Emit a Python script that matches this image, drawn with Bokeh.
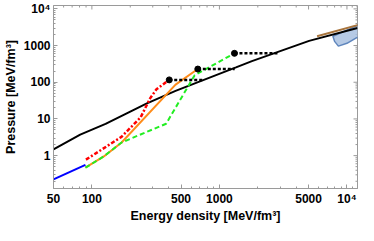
import math
from bokeh.plotting import figure
from bokeh.models import FixedTicker, Range1d
from bokeh.embed import file_html
from bokeh.resources import INLINE

# ---- axis ticks ----
x_ticks = [50, 100, 500, 1000, 5000, 10000]
x_tick_labels = ["50", "100", "500", "1000", "5000", "10⁴"]
x_minor = [60, 70, 80, 90, 200, 300, 400, 600, 700, 800, 900,
           2000, 3000, 4000, 6000, 7000, 8000, 9000, 11000, 12000]
y_ticks = [1, 10, 100, 1000, 10000]
y_tick_labels = ["1", "10", "100", "1000", "10⁴"]
y_minor = [m * d for d in (0.1, 1, 10, 100, 1000) for m in range(2, 10)]
x_title = "Energy density [MeV/fm³]"
y_title = "Pressure [MeV/fm³]"

# ---- data (energy density e, pressure P) ----
black_e = [50, 81, 128, 270, 453, 1349, 1799, 5050, 12100]
black_p = [1.48, 3.72, 7.3, 26.6, 58, 254, 376, 1343, 3000]

blue_e = [50, 89]
blue_p = [0.225, 0.56]

orange_e = [89, 124, 171, 453, 677]
orange_p = [0.47, 0.95, 2.28, 86, 229]

green_e = [89, 124, 171, 382, 640, 1312]
green_p = [0.47, 0.95, 2.28, 7.4, 156, 614]

red_e = [89.8, 170.6, 241, 286, 321, 404]
red_p = [0.776, 3.25, 11.0, 36.3, 64.3, 116]

dot_e = [404, 677, 1312]
dot_p = [116, 229, 614]
dot_end_e = [738, 1318, 2865]

brown_e = [5830, 12500]
brown_p = [1800, 3700]

band_e = [7760, 14000, 14000, 11940, 10000, 8570, 8000]
band_p = [1800, 4400, 1900, 1640, 1150, 966, 1300]

X_START, X_END = 50, 12100
Y_START, Y_END = 0.127, 12360

FONT = "Liberation Sans"
GRAY = "#9a9a9a"

p = figure(width=358, height=225, x_axis_type="log", y_axis_type="log",
           x_range=Range1d(X_START, X_END), y_range=Range1d(Y_START, Y_END),
           output_backend="svg", toolbar_location=None,
           min_border_left=40, min_border_right=1, min_border_top=5,
           min_border_bottom=20)
p.grid.visible = False
p.outline_line_color = GRAY
p.background_fill_color = "white"


def style_axis(ax, ticks, minor, labels):
    ax.ticker = FixedTicker(ticks=ticks, minor_ticks=minor)
    ax.major_tick_in = 4
    ax.major_tick_out = 0
    ax.minor_tick_in = 2
    ax.minor_tick_out = 0
    ax.major_tick_line_color = GRAY
    ax.minor_tick_line_color = GRAY
    ax.axis_line_color = GRAY
    ax.major_label_overrides = {t: l for t, l in zip(ticks, labels)}
    ax.major_label_text_font = FONT
    ax.major_label_text_font_style = "bold"
    ax.major_label_text_font_size = "12px"
    ax.major_label_text_color = "black"
    ax.axis_label_text_font = FONT
    ax.axis_label_text_font_style = "bold"
    ax.axis_label_text_font_size = "12.5px"
    ax.axis_label_text_color = "black"


style_axis(p.xaxis[0], x_ticks, x_minor, x_tick_labels)
style_axis(p.yaxis[0], y_ticks, y_minor, y_tick_labels)
p.xaxis[0].axis_label = x_title
p.yaxis[0].axis_label = y_title
p.xaxis[0].major_label_standoff = 3
p.xaxis[0].axis_label_standoff = 0
p.xaxis[0].axis_label_text_baseline = "top"
p.yaxis[0].major_label_standoff = 3
p.yaxis[0].axis_label_standoff = 3

# inward ticks on the top and right frame edges (clipped to the frame)
p.scatter(x_ticks, [Y_END] * len(x_ticks), marker="dash", angle=math.pi / 2,
          size=8, line_color=GRAY, line_width=1)
p.scatter(x_minor, [Y_END] * len(x_minor), marker="dash", angle=math.pi / 2,
          size=4, line_color=GRAY, line_width=1)
p.scatter([X_END] * len(y_ticks), y_ticks, marker="dash",
          size=8, line_color=GRAY, line_width=1)
p.scatter([X_END] * len(y_minor), y_minor, marker="dash",
          size=4, line_color=GRAY, line_width=1)

# shaded band and brown line
p.patch(band_e, band_p, fill_color="#a9c1e0", fill_alpha=0.85,
        line_color="#5f86bd", line_width=1.5)
p.line(brown_e, brown_p, line_color="#a8743c", line_width=2)

# black curve
p.line(black_e, black_p, line_color="black", line_width=2)

# low-density blue
p.line(blue_e, blue_p, line_color="#0000ff", line_width=2)

# orange solid
p.line(orange_e, orange_p, line_color="#ff8c1a", line_width=2)

# green dashed
p.line(green_e, green_p, line_color="#22ee22", line_width=2, line_dash="5 3")

# red dash-dot
p.line(red_e, red_p, line_color="#ff0000", line_width=2.5, line_dash="4 2 2 2")

# dotted plateaus
for e0, e1, pp in zip(dot_e, dot_end_e, dot_p):
    p.line([e0, e1], [pp, pp], line_color="black", line_width=2.5, line_dash="3 2")

p.scatter(dot_e, dot_p, size=6, color="black")

open("out.html", "w").write(file_html(p, INLINE))
